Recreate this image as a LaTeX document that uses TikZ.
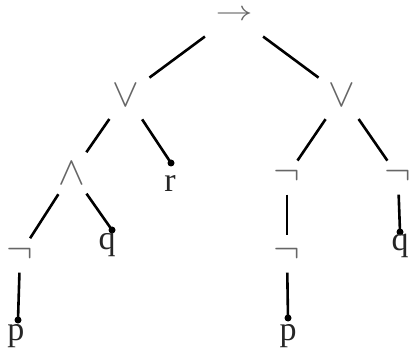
\documentclass[tikz,border=0pt]{standalone}
\usepackage{graphicx}
\usepackage{fontspec}
\setmainfont{Liberation Serif}
\newcommand{\bigsym}[1]{\scalebox{4}{$#1$}}
\begin{document}
\begin{tikzpicture}[x=1pt,y=-1pt,
  sym/.style={circle,inner sep=0pt,text=black!60},
  rootsym/.style={sym,minimum size=72pt},
  veesym/.style={sym,minimum size=58pt},
  wedgesym/.style={sym,minimum size=50pt},
  negsym/.style={sym,minimum size=37pt},
  leafdot/.style={circle,fill=black,inner sep=0pt,minimum size=7pt},
  leaf/.style={anchor=base,inner sep=0pt,text=black!85,font=\fontsize{34}{40}\selectfont},
  edge/.style={line width=2.6pt}]
\useasboundingbox (0,0) rectangle (410,350);
\node[rootsym] (root) at (234,15) {\scalebox{3.7}[2.8]{$\rightarrow$}};
\node[veesym] (vl) at (126,95) {\bigsym{\vee}};
\node[veesym] (vr) at (342,95) {\bigsym{\vee}};
\node[wedgesym] (and) at (72,173) {\bigsym{\wedge}};
\node[negsym] (n1) at (20,254) {\bigsym{\neg}};
\node[negsym] (n2) at (287,176) {\bigsym{\neg}};
\node[negsym] (n3) at (398,176) {\bigsym{\neg}};
\node[negsym] (n4) at (287,254) {\bigsym{\neg}};
\node[leafdot] (rdot) at (171,163) {};
\node[leafdot] (qdot1) at (112,230) {};
\node[leafdot] (pdot1) at (18,320) {};
\node[leafdot] (pdot2) at (288,318) {};
\node[leafdot] (qdot2) at (400,232) {};
\node[leaf] (r) at (170,192) {r};
\node[leaf] (q1) at (107,250) {q};
\node[leaf] (p1) at (16,340) {p};
\node[leaf] (p2) at (288,340) {p};
\node[leaf] (q2) at (400,251) {q};
\draw[edge] (root) -- (vl);
\draw[edge] (root) -- (vr);
\draw[edge] (vl) -- (and);
\draw[edge] (vl) -- (rdot.center);
\draw[edge] (and) -- (n1);
\draw[edge] (and) -- (qdot1.center);
\draw[edge] (n1) -- (pdot1.center);
\draw[edge] (vr) -- (n2);
\draw[edge] (vr) -- (n3);
\draw[edge] (n2) -- (n4);
\draw[edge] (n4) -- (pdot2.center);
\draw[edge] (n3) -- (qdot2.center);
\end{tikzpicture}
\end{document}
